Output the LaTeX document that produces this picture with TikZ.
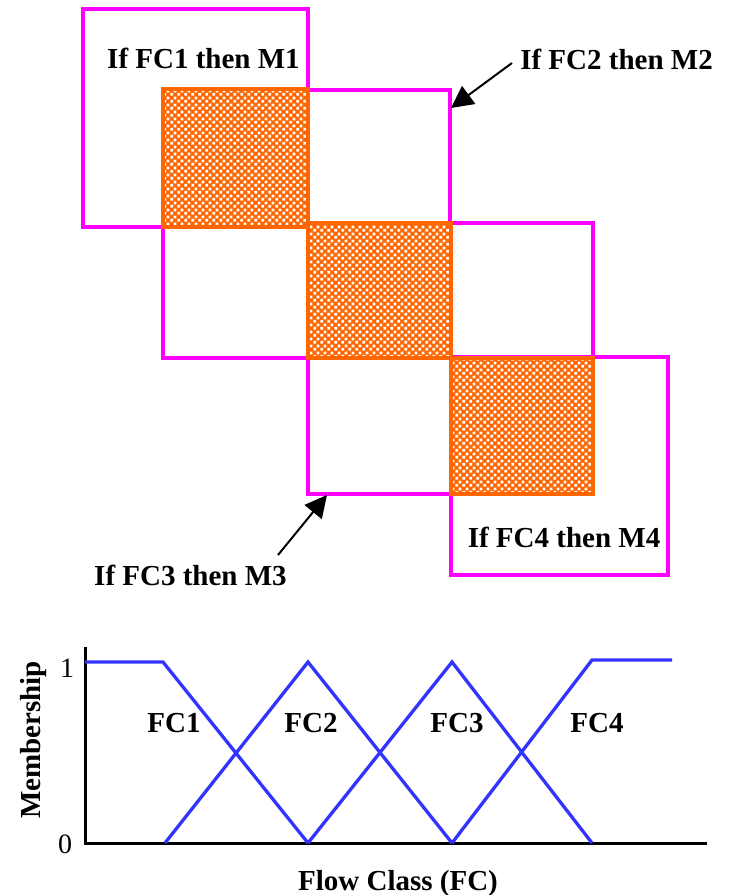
\documentclass[tikz,border=0pt]{standalone}
\usepackage{fontspec}
\setmainfont{Liberation Serif}
\usetikzlibrary{arrows.meta,patterns}
\definecolor{mag}{RGB}{255,0,255}
\definecolor{org}{RGB}{255,102,0}
\definecolor{blu}{RGB}{51,51,255}
\pgfdeclarepatternformonly{chk}{\pgfqpoint{0pt}{0pt}}{\pgfqpoint{6.8pt}{6.8pt}}{\pgfqpoint{6.8pt}{6.8pt}}{%
\pgfpathrectangle{\pgfqpoint{0.3pt}{0.3pt}}{\pgfqpoint{2.8pt}{2.8pt}}%
\pgfpathrectangle{\pgfqpoint{3.7pt}{3.7pt}}{\pgfqpoint{2.8pt}{2.8pt}}%
\pgfusepath{fill}}
\begin{document}
\begin{tikzpicture}[x=1pt,y=-1pt,
  magbox/.style={draw=mag,line width=3.3pt},
  orgsq/.style={draw=org,line width=4pt,preaction={fill=org},pattern=chk,pattern color=white},
  lbl/.style={font=\fontsize{29}{34}\selectfont\bfseries,inner sep=0pt,anchor=base},
  num/.style={font=\fontsize{28}{34}\selectfont,inner sep=0pt,anchor=base},
  ptr/.style={line width=2pt},
  axisline/.style={line width=3pt,black},
  mf/.style={draw=blu,line width=3.3pt}]
\fill[white] (0,0) rectangle (729,895);
\useasboundingbox (0,0) rectangle (729,895);
% magenta rule boxes
\draw[magbox] (83,9) rectangle (308,227);
\draw[magbox] (163,90) rectangle (450,358);
\draw[magbox] (308,223) rectangle (593,494);
\draw[magbox] (451,357) rectangle (668,575);
% orange checkered squares
\draw[orgsq] (163,89) rectangle (308,227);
\draw[orgsq] (308,223) rectangle (451,358);
\draw[orgsq] (451,358) rectangle (593,494);
% rule labels
\node[lbl] (t1) at (203.5,68) {If FC1 then M1};
\node[lbl] (t2) at (616.5,69) {If FC2 then M2};
\node[lbl] (t3) at (190.5,585) {If FC3 then M3};
\node[lbl] (t4) at (564,547) {If FC4 then M4};
% pointers
\coordinate (p2s) at (512,63);
\coordinate (p2e) at (451,108);
\coordinate (p3s) at (278,555);
\coordinate (p3e) at (327,495);
\draw[ptr,-{Triangle[length=22pt,width=22pt]}] (p2s) -- (p2e);
\draw[ptr,-{Triangle[length=22pt,width=22pt]}] (p3s) -- (p3e);
% membership graph
\coordinate (o) at (85,843);
\coordinate (ytop) at (85,647);
\coordinate (xend) at (707,843);
\draw[axisline] (ytop) -- (o) -- (xend);
\draw[mf] (85,662) -- (163,662) -- (308,843);
\draw[mf] (165,843) -- (308,662) -- (452,843);
\draw[mf] (308,843) -- (452,662) -- (592,843);
\draw[mf] (452,843) -- (592,660) -- (672,660);
\node[lbl] (f1) at (174,732) {FC1};
\node[lbl] (f2) at (311,732) {FC2};
\node[lbl] (f3) at (457,732) {FC3};
\node[lbl] (f4) at (597,732) {FC4};
\node[num] (one) at (67,677) {1};
\node[num] (zero) at (65,853) {0};
\node[lbl,rotate=90] (ylab) at (40,740) {Membership};
\node[lbl] (xlab) at (398,890) {Flow Class (FC)};
\end{tikzpicture}
\end{document}
